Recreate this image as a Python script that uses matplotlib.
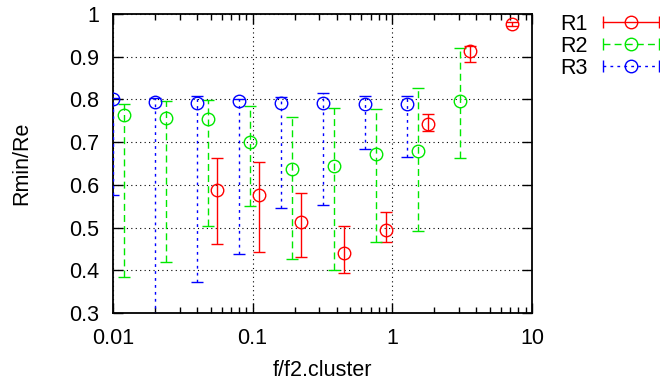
import numpy as np
import matplotlib
matplotlib.use('Agg')
import matplotlib.pyplot as plt
from matplotlib.lines import Line2D
from matplotlib.legend_handler import HandlerLine2D, HandlerTuple
from matplotlib.ticker import FuncFormatter

plt.rcParams['font.family'] = ['Liberation Sans', 'DejaVu Sans']

# R1
r1_x = [0.056, 0.112, 0.224, 0.448, 0.896, 1.792, 3.584, 7.168]
r1_y = [0.589, 0.575, 0.514, 0.441, 0.495, 0.743, 0.914, 0.977]
r1_lo = [0.461, 0.442, 0.431, 0.393, 0.467, 0.727, 0.888, 0.972]
r1_hi = [0.663, 0.653, 0.581, 0.503, 0.536, 0.766, 0.925, 0.982]

# R2
r2_x = [0.012, 0.024, 0.048, 0.096, 0.192, 0.384, 0.768, 1.536, 3.072]
r2_y = [0.764, 0.756, 0.755, 0.700, 0.636, 0.643, 0.673, 0.678, 0.795]
r2_lo = [0.385, 0.419, 0.503, 0.550, 0.426, 0.400, 0.467, 0.492, 0.662]
r2_hi = [0.790, 0.795, 0.799, 0.785, 0.759, 0.780, 0.777, 0.826, 0.921]

# R3
r3_x = [0.01, 0.02, 0.04, 0.08, 0.16, 0.32, 0.64, 1.28]
r3_y = [0.800, 0.794, 0.791, 0.795, 0.791, 0.791, 0.790, 0.788]
r3_lo = [0.577, 0.280, 0.373, 0.439, 0.546, 0.552, 0.684, 0.664]
r3_hi = [0.802, 0.804, 0.807, 0.800, 0.806, 0.814, 0.808, 0.808]

series = [
    ('R1', r1_x, r1_y, r1_lo, r1_hi, '#ff0000', '-'),
    ('R2', r2_x, r2_y, r2_lo, r2_hi, '#00e800', (0, (5, 3))),
    ('R3', r3_x, r3_y, r3_lo, r3_hi, '#0000ff', (0, (2, 3))),
]

FS = 15.5

fig = plt.figure(figsize=(6.6, 3.85), dpi=100)
ax = fig.add_axes([0.171, 0.187, 0.635, 0.777])

handles = []
hmap = {}
for name, x, y, lo, hi, col, ls in series:
    y = np.array(y)
    yerr = [y - np.array(lo), np.array(hi) - y]
    cont = ax.errorbar(x, y, yerr=yerr, fmt='o', mfc='none', mec=col, ms=9,
                       mew=1.0, ecolor=col, elinewidth=1.0, capsize=4,
                       capthick=1.0, zorder=3)
    for bc in cont[2]:
        bc.set_linestyle(ls)
    # legend sample: line with end ticks plus a circle in the middle
    ends = Line2D([], [], color=col, ls=ls, lw=1.0, marker='|', ms=9, mew=1.0)
    circ = Line2D([], [], color=col, ls='none', marker='o', mfc='none', ms=9, mew=1.0)
    hmap[ends] = HandlerLine2D(numpoints=2)
    handles.append((ends, circ))

ax.set_xscale('log')
ax.set_xlim(0.01, 10)
ax.set_ylim(0.3, 1.0)
ax.set_yticks(np.arange(0.3, 1.01, 0.1))
fmt = FuncFormatter(lambda v, p: '%g' % round(v, 3))
ax.xaxis.set_major_formatter(fmt)
ax.yaxis.set_major_formatter(fmt)

ax.grid(True, which='major', color='black', ls=(0, (1, 3)), lw=0.8)
ax.tick_params(which='both', direction='in', top=True, right=True, labelsize=FS)
ax.tick_params(which='major', length=7, width=1.0)
ax.tick_params(which='minor', length=4, width=1.0)
ax.tick_params(axis='x', which='major', pad=11)
ax.tick_params(axis='y', which='major', pad=10)
for s in ax.spines.values():
    s.set_linewidth(1.3)

ax.set_xlabel('f/f2.cluster', fontsize=FS, labelpad=8)
ax.set_ylabel('Rmin/Re', fontsize=FS, labelpad=26)

hmap[tuple] = HandlerTuple(ndivide=1)
fig.legend(handles, [s[0] for s in series], handler_map=hmap,
           loc='upper left', bbox_to_anchor=(0.82, 1.015), frameon=False,
           markerfirst=False, handlelength=3.2, fontsize=FS,
           labelspacing=0.05, handletextpad=0.4)

fig.savefig('out.png', dpi=100)
